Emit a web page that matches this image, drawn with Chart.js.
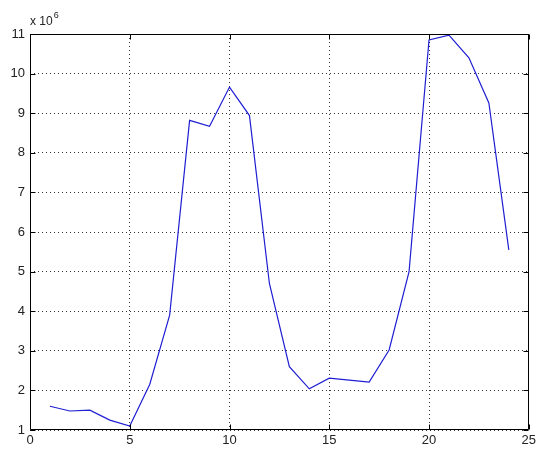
<!DOCTYPE html>
<html>
<head>
<meta charset="utf-8">
<script src="https://cdn.jsdelivr.net/npm/chart.js@4/dist/chart.umd.min.js"></script>
<style>
  html, body { margin: 0; padding: 0; background: #ffffff; }
  #wrap { width: 539px; height: 449px; position: relative; }
</style>
</head>
<body>
<div id="wrap"><canvas id="c" width="539" height="449"></canvas></div>
<script>
// Sample index along the x axis
const xValues = [1, 2, 3, 4, 5, 6, 7, 8, 9, 10, 11, 12, 13, 14, 15, 16, 17, 18, 19, 20, 21, 22, 23, 24];
// Measured series, in units of 1e6
const yValues = [1.60, 1.48, 1.50, 1.25, 1.10, 2.15, 3.90, 8.82, 8.67, 9.66, 8.94, 4.70, 2.60, 2.04, 2.31, 2.26, 2.21, 3.02, 5.00, 10.85, 10.97, 10.40, 9.26, 5.55];
const yScale = 1e6;
// Axis tick values
const xTicks = [0, 5, 10, 15, 20, 25];
const yTicks = [1, 2, 3, 4, 5, 6, 7, 8, 9, 10, 11];

const points = xValues.map((x, i) => ({ x: x, y: yValues[i] * yScale }));
const font = { family: "'Liberation Sans', Arial, sans-serif", size: 13 };
const textColor = '#222222';

// Box around the axes, inward tick marks and the exponent label
const boxPlugin = {
  id: 'box',
  afterDraw(chart) {
    const { ctx, chartArea: a, scales } = chart;
    ctx.save();
    ctx.strokeStyle = '#000000';
    ctx.lineWidth = 1;
    const L = Math.round(a.left) + 0.5, R = Math.round(a.right) - 0.5;
    const T = Math.round(a.top) + 0.5, B = Math.round(a.bottom) - 0.5;
    ctx.beginPath();
    ctx.rect(L, T, R - L, B - T);
    ctx.stroke();
    const tl = 5;
    ctx.beginPath();
    xTicks.forEach(v => {
      const px = Math.round(scales.x.getPixelForValue(v)) + 0.5;
      ctx.moveTo(px, B); ctx.lineTo(px, B - tl);
      ctx.moveTo(px, T); ctx.lineTo(px, T + tl);
    });
    yTicks.forEach(v => {
      const py = Math.round(scales.y.getPixelForValue(v * yScale)) + 0.5;
      ctx.moveTo(L, py); ctx.lineTo(L + tl, py);
      ctx.moveTo(R, py); ctx.lineTo(R - tl, py);
    });
    ctx.stroke();
    ctx.fillStyle = textColor;
    ctx.textBaseline = 'alphabetic';
    ctx.textAlign = 'left';
    ctx.font = "12px 'Liberation Sans', Arial, sans-serif";
    ctx.fillText('x 10', a.left, a.top - 9);
    const w = ctx.measureText('x 10').width;
    ctx.font = "9px 'Liberation Sans', Arial, sans-serif";
    ctx.fillText('6', a.left + w + 1, a.top - 16);
    ctx.restore();
  }
};

new Chart(document.getElementById('c'), {
  type: 'line',
  data: {
    datasets: [{
      data: points,
      borderColor: 'rgb(30,30,210)',
      borderWidth: 1.2,
      pointRadius: 0,
      tension: 0,
      fill: false
    }]
  },
  options: {
    responsive: false,
    animation: false,
    devicePixelRatio: 1,
    layout: { padding: { top: 34, right: 8, left: 0, bottom: 0 } },
    plugins: { legend: { display: false }, tooltip: { enabled: false } },
    scales: {
      x: {
        type: 'linear',
        min: 0, max: 25,
        afterBuildTicks(scale) { scale.ticks = xTicks.map(v => ({ value: v })); },
        afterFit(scale) { scale.height = 19; },
        ticks: { font: font, color: textColor, padding: 3, maxRotation: 0 },
        grid: { color: '#333333', lineWidth: 1, drawTicks: false },
        border: { display: false, dash: [1, 3] }
      },
      y: {
        type: 'linear',
        min: 1 * yScale, max: 11 * yScale,
        afterBuildTicks(scale) { scale.ticks = yTicks.map(v => ({ value: v * yScale })); },
        afterFit(scale) { scale.width = 30; },
        ticks: {
          font: font, color: textColor, padding: 5,
          callback: v => String(Math.round(v / yScale))
        },
        grid: { color: '#333333', lineWidth: 1, drawTicks: false },
        border: { display: false, dash: [1, 3] }
      }
    }
  },
  plugins: [boxPlugin]
});
</script>
</body>
</html>
